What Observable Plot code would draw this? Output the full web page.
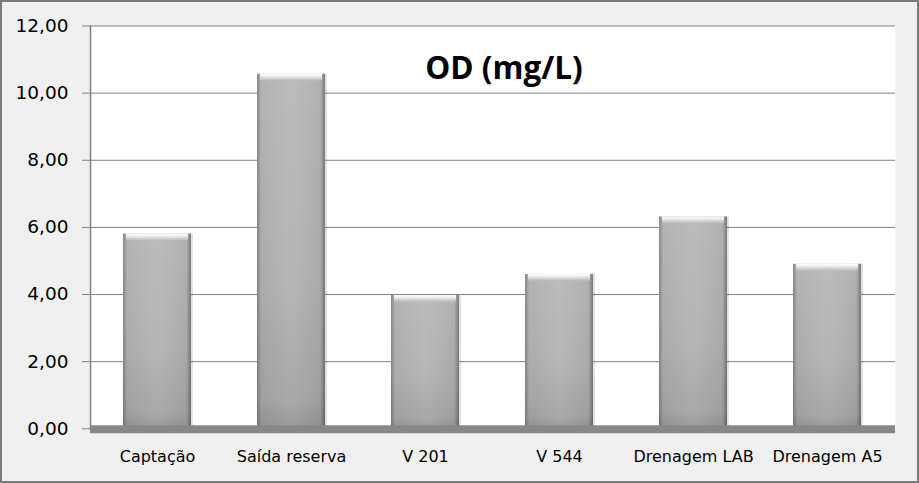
<!DOCTYPE html>
<html>
<head>
<meta charset="utf-8">
<script src="https://cdn.jsdelivr.net/npm/d3@7"></script>
<script src="https://cdn.jsdelivr.net/npm/@observablehq/plot@0.6"></script>
<style>
  html, body { margin: 0; padding: 0; background: #f0f0f0; }
  #wrap { width: 919px; height: 483px; box-sizing: border-box; border: 2px solid #7a7a7a; overflow: hidden; background: #f0f0f0; }
  #wrap svg { display: block; }
</style>
</head>
<body>
<div id="wrap"></div>
<script>
const categories = ["Captação", "Saída reserva", "V 201", "V 544", "Drenagem LAB", "Drenagem A5"];
const values = [5.80, 10.56, 3.97, 4.60, 6.31, 4.90];
const yTicks = [0, 2, 4, 6, 8, 10, 12];
const title = "OD (mg/L)";

const data = categories.map((c, i) => ({c, v: values[i]}));
const fmt = d3.formatLocale({decimal: ",", thousands: ".", grouping: [3], currency: ["", ""]}).format(".2f");

const chart = Plot.plot({
  width: 915,
  height: 479,
  marginLeft: 88,
  marginRight: 22,
  marginTop: 23.5,
  marginBottom: 52.7,
  style: {background: "#f0f0f0", fontFamily: "DejaVu Sans, sans-serif", color: "#000"},
  x: {domain: categories, paddingInner: 0.49, paddingOuter: 0.245, label: null},
  y: {domain: [0, 12], label: null},
  marks: [
    Plot.frame({fill: "white", stroke: null}),
    Plot.gridY(yTicks, {stroke: "#808080", strokeOpacity: 1, strokeWidth: 1}),
    Plot.frame({anchor: "left", stroke: "#808080", strokeWidth: 1.5}),
    Plot.axisY(yTicks, {tickSize: 8, tickPadding: 14, tickFormat: fmt, fontSize: 18.5, stroke: "#808080", fill: "#000", label: null}),
    Plot.axisX({tickSize: 0, tickPadding: 22, fontSize: 16, fill: "#000", label: null}),
    // bar shadow
    Plot.barY(data, {x: "c", y: "v", fill: "rgba(0,0,0,0.12)", dx: 2}),
    // bar body
    Plot.barY(data, {x: "c", y: "v", fill: "url(#barV)"}),
    Plot.barY(data, {x: "c", y: "v", fill: "url(#barH)"}),
    // top bevel highlight
    Plot.barY(data, {x: "c", y1: d => d.v - 0.2, y2: "v", fill: "url(#bevel)", insetLeft: 3, insetRight: 3}),
    // floor
    Plot.ruleY([0], {stroke: "#888888", strokeWidth: 8, dy: 0.5}),
    Plot.text([title], {frameAnchor: "top", lineAnchor: "bottom", dx: 11, dy: 53, fontSize: 31.5, fontWeight: "bold", fontFamily: "Open Sans, sans-serif", fill: "#000"})
  ]
});

chart.insertAdjacentHTML("afterbegin", `
<defs>
  <linearGradient id="barV" x1="0" y1="0" x2="0" y2="1">
    <stop offset="0" stop-color="#bababa"/>
    <stop offset="0.6" stop-color="#b3b3b3"/>
    <stop offset="0.92" stop-color="#a6a6a6"/>
    <stop offset="1" stop-color="#969696"/>
  </linearGradient>
  <linearGradient id="barH" x1="0" y1="0" x2="1" y2="0">
    <stop offset="0" stop-color="#000" stop-opacity="0.28"/>
    <stop offset="0.06" stop-color="#000" stop-opacity="0.04"/>
    <stop offset="0.5" stop-color="#fff" stop-opacity="0.04"/>
    <stop offset="0.93" stop-color="#000" stop-opacity="0.05"/>
    <stop offset="1" stop-color="#000" stop-opacity="0.35"/>
  </linearGradient>
  <linearGradient id="bevel" x1="0" y1="0" x2="0" y2="1">
    <stop offset="0" stop-color="#ffffff"/>
    <stop offset="0.45" stop-color="#e6e6e6"/>
    <stop offset="1" stop-color="#c0c0c0" stop-opacity="0.7"/>
  </linearGradient>
</defs>`);

document.getElementById("wrap").appendChild(chart);
</script>
</body>
</html>
